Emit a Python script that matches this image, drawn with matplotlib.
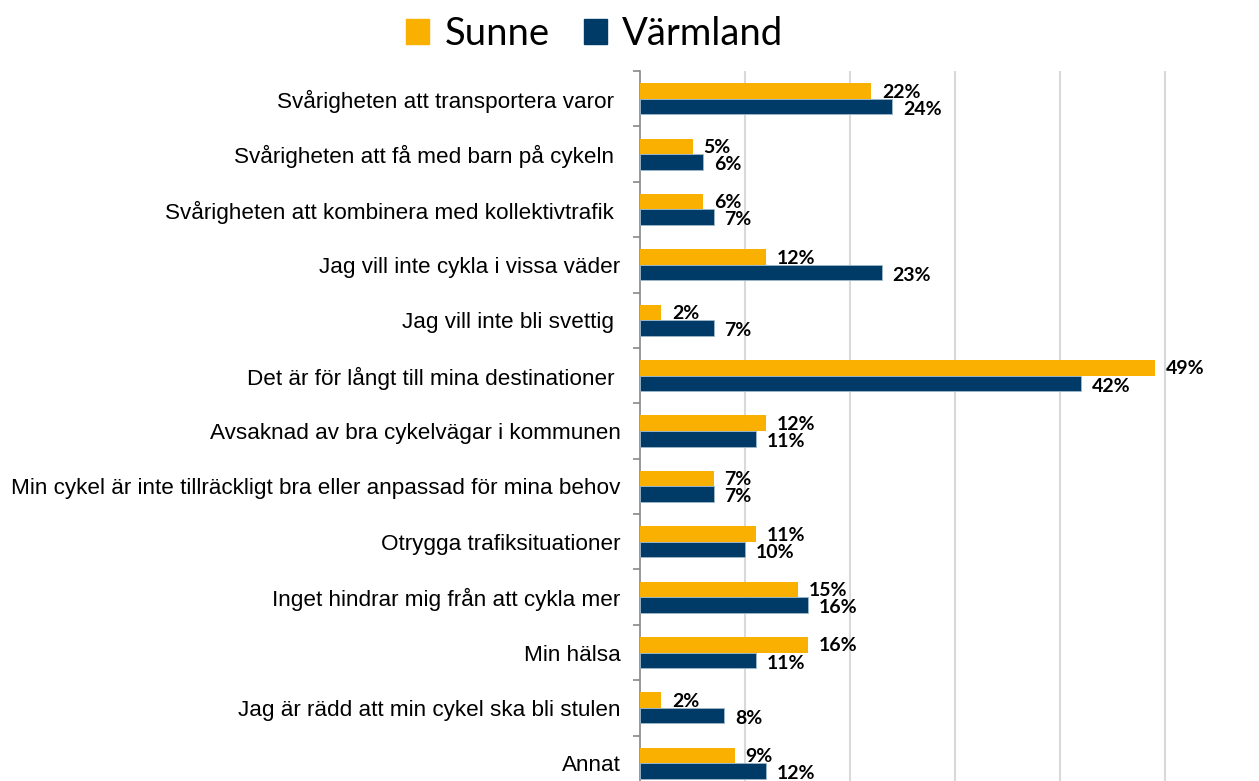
import matplotlib
matplotlib.use("Agg")
import matplotlib.pyplot as plt
from matplotlib.patches import Patch
import numpy as np

categories = [
    "Svårigheten att transportera varor ",
    "Svårigheten att få med barn på cykeln ",
    "Svårigheten att kombinera med kollektivtrafik ",
    "Jag vill inte cykla i vissa väder",
    "Jag vill inte bli svettig ",
    "Det är för långt till mina destinationer ",
    "Avsaknad av bra cykelvägar i kommunen",
    "Min cykel är inte tillräckligt bra eller anpassad för mina behov",
    "Otrygga trafiksituationer",
    "Inget hindrar mig från att cykla mer",
    "Min hälsa",
    "Jag är rädd att min cykel ska bli stulen",
    "Annat",
]
sunne = [22, 5, 6, 12, 2, 49, 12, 7, 11, 15, 16, 2, 9]
varmland = [24, 6, 7, 23, 7, 42, 11, 7, 10, 16, 11, 8, 12]
series_names = ["Sunne", "Värmland"]
colors = ["#F9B000", "#003A66"]

W, H = 1259, 781
fig = plt.figure(figsize=(W / 100, H / 100), dpi=100)
left, right = 640 / W, 1270 / W
top, bottom = 1 - 71 / H, -10 / H
ax = fig.add_axes([left, bottom, right - left, top - bottom])

n = len(categories)
y = np.arange(n)
bh = 0.28
ax.barh(y - bh / 2, sunne, height=bh, color=colors[0], zorder=3)
ax.barh(y + bh / 2, varmland, height=bh, color=colors[1], zorder=3,
        edgecolor="#9FB8CC", linewidth=0.6)

ax.set_xlim(0, 60)
ax.set_ylim(n - 0.5, -0.5)

for yi, v in zip(y, sunne):
    ax.annotate(f"{v}%", (v, yi - bh / 2 + 0.02), xytext=(8, 0), textcoords="offset points",
                va="center", ha="left", fontsize=14, fontweight="bold", family="Lato")
for yi, v in zip(y, varmland):
    ax.annotate(f"{v}%", (v, yi + bh / 2 + 0.05), xytext=(8, 0), textcoords="offset points",
                va="center", ha="left", fontsize=14, fontweight="bold", family="Lato")

ax.set_yticks(y)
ax.set_yticklabels(categories, fontsize=16.2, family="Liberation Sans")
ax.tick_params(axis="y", which="major", length=0, pad=14)
ax.set_yticks(np.arange(n + 1) - 0.5, minor=True)
ax.tick_params(axis="y", which="minor", length=5, color="#888888", width=1.2)

ax.set_xticks([10, 20, 30, 40, 50, 60])
ax.set_xticklabels([])
ax.tick_params(axis="x", length=0)
ax.grid(axis="x", color="#D9D9D9", linewidth=1.5, zorder=0)

for s in ["top", "right", "bottom"]:
    ax.spines[s].set_visible(False)
ax.spines["left"].set_color("#888888")
ax.spines["left"].set_linewidth(1.2)

handles = [Patch(color=c) for c in colors]
fig.legend(handles, series_names, loc="center", bbox_to_anchor=(595 / W, 1 - 34 / H),
           ncol=2, frameon=False, handlelength=0.6, handleheight=0.6,
           handletextpad=0.4, columnspacing=0.9, prop={"family": "Lato", "size": 27.5})

fig.savefig("out.png", dpi=100)
